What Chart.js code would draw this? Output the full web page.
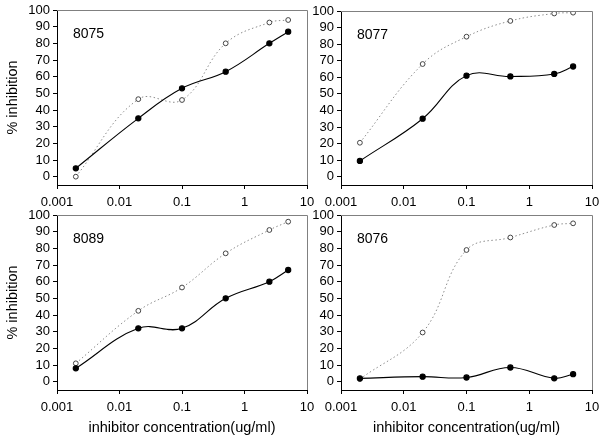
<!DOCTYPE html>
<html>
<head>
<meta charset="utf-8">
<script src="https://cdn.jsdelivr.net/npm/chart.js@4.4.1/dist/chart.umd.min.js"></script>
<style>
  html, body { margin: 0; padding: 0; background: #fff; }
  #wrap { position: relative; width: 604px; height: 439px; }
  #wrap canvas { position: absolute; left: 0; top: 0; }
</style>
</head>
<body>
<div id="wrap">
  <canvas id="c8075" width="604" height="439"></canvas>
  <canvas id="c8077" width="604" height="439"></canvas>
  <canvas id="c8089" width="604" height="439"></canvas>
  <canvas id="c8076" width="604" height="439"></canvas>
</div>
<script>
// ===== DATA =====
const concentrations = [0.002, 0.02, 0.1, 0.5, 2.5, 5];
const xTicks = [0.001, 0.01, 0.1, 1, 10];
const xTickLabels = ["0.001", "0.01", "0.1", "1", "10"];
const yTicks = [0, 10, 20, 30, 40, 50, 60, 70, 80, 90, 100];

const filled8075 = [5, 35, 53, 63, 80, 87];
const open8075 = [0, 46.5, 46, 80, 92.5, 94];
const filled8077 = [9.5, 35, 61, 60.5, 62, 66.5];
const open8077 = [20.5, 68, 84.5, 94, 98.5, 99];
const filled8089 = [8, 32, 32, 50, 60, 67];
const open8089 = [11, 42.5, 56.5, 77, 91, 96];
const filled8076 = [2, 3, 2.5, 8.5, 2, 4.5];
const open8076 = [1.5, 29.5, 79, 86.5, 94, 95];

const yTitle = "% inhibition";
const xTitle = "inhibitor concentration(ug/ml)";
const FONT = "'Liberation Sans', Arial, sans-serif";

// ===== PANEL LAYOUT =====
const panels = [
  { id: "c8075", name: "8075", filled: filled8075, open: open8075, left: 57, top: 10, right: 307, bottom: 185, showYTitle: true, showXTitle: false },
  { id: "c8077", name: "8077", filled: filled8077, open: open8077, left: 341, top: 11, right: 592, bottom: 185, showYTitle: false, showXTitle: false },
  { id: "c8089", name: "8089", filled: filled8089, open: open8089, left: 57, top: 215, right: 307, bottom: 390, showYTitle: true, showXTitle: true },
  { id: "c8076", name: "8076", filled: filled8076, open: open8076, left: 341, top: 215, right: 592, bottom: 390, showYTitle: false, showXTitle: true },
];

// frame (top/right edges) + panel label
const panelFrame = {
  id: "panelFrame",
  afterDraw(chart, args, opts) {
    const { ctx, chartArea: a } = chart;
    ctx.save();
    ctx.lineWidth = 1;
    ctx.strokeStyle = "#808080";
    ctx.beginPath();
    ctx.moveTo(a.left, a.top + 0.5);
    ctx.lineTo(Math.round(a.right) + 0.5, a.top + 0.5);
    ctx.lineTo(Math.round(a.right) + 0.5, a.bottom);
    ctx.stroke();
    ctx.fillStyle = "#000";
    ctx.font = "14px " + FONT;
    ctx.textBaseline = "middle";
    ctx.textAlign = "left";
    ctx.fillText(opts.label, a.left + 16, a.top + 24);
    ctx.restore();
  },
};

function toPoints(values) {
  return concentrations.map((x, i) => ({ x: x, y: values[i] }));
}

function makeChart(p) {
  const yWidth = p.showYTitle ? 57 : 40;
  const xHeight = p.showXTitle ? 439 - p.bottom : 25;

  return new Chart(document.getElementById(p.id), {
    type: "line",
    data: {
      datasets: [
        {
          label: "filled",
          data: toPoints(p.filled),
          borderColor: "#000",
          borderWidth: 1.1,
          pointRadius: 2.6,
          pointBackgroundColor: "#000",
          pointBorderColor: "#000",
          tension: 0.4,
          fill: false,
        },
        {
          label: "open",
          data: toPoints(p.open),
          borderColor: "#8c8c8c",
          borderWidth: 1,
          borderDash: [1.5, 2.5],
          pointRadius: 2.4,
          pointBackgroundColor: "#fff",
          pointBorderColor: "#444",
          pointBorderWidth: 1,
          tension: 0.4,
          fill: false,
        },
      ],
    },
    options: {
      responsive: false,
      animation: false,
      layout: {
        padding: {
          left: p.left - yWidth,
          top: p.top,
          right: 604 - p.right,
          bottom: 439 - p.bottom - xHeight,
        },
      },
      plugins: {
        legend: { display: false },
        tooltip: { enabled: false },
        panelFrame: { label: p.name },
      },
      scales: {
        x: {
          type: "logarithmic",
          min: 0.001,
          max: 10,
          afterBuildTicks: (s) => { s.ticks = xTicks.map((v) => ({ value: v })); },
          afterFit: (s) => { s.height = xHeight; s.paddingLeft = 0; s.paddingRight = 0; },
          ticks: {
            color: "#000",
            font: { family: FONT, size: 13 },
            padding: 6,
            maxRotation: 0,
            autoSkip: false,
            callback: (v, i) => xTickLabels[i],
          },
          grid: { display: true, drawOnChartArea: false, drawTicks: true, tickLength: 4, color: "#000" },
          border: { display: true, color: "#000", width: 1 },
          title: {
            display: p.showXTitle,
            text: xTitle,
            color: "#000",
            font: { family: FONT, size: 14.5 },
            padding: { top: 4, bottom: 2 },
          },
        },
        y: {
          type: "linear",
          min: -5,
          max: 100,
          afterBuildTicks: (s) => { s.ticks = yTicks.map((v) => ({ value: v })); },
          afterFit: (s) => { s.width = yWidth; s.paddingTop = 0; s.paddingBottom = 0; },
          ticks: {
            color: "#000",
            font: { family: FONT, size: 13 },
            padding: 3,
            autoSkip: false,
          },
          grid: { display: true, drawOnChartArea: false, drawTicks: true, tickLength: 4, color: "#000" },
          border: { display: true, color: "#000", width: 1 },
          title: {
            display: p.showYTitle,
            text: yTitle,
            color: "#000",
            font: { family: FONT, size: 14.5 },
            padding: { top: 4, bottom: 4 },
          },
        },
      },
    },
    plugins: [panelFrame],
  });
}

window.addEventListener("load", () => {
  panels.forEach(makeChart);
});
</script>
</body>
</html>
